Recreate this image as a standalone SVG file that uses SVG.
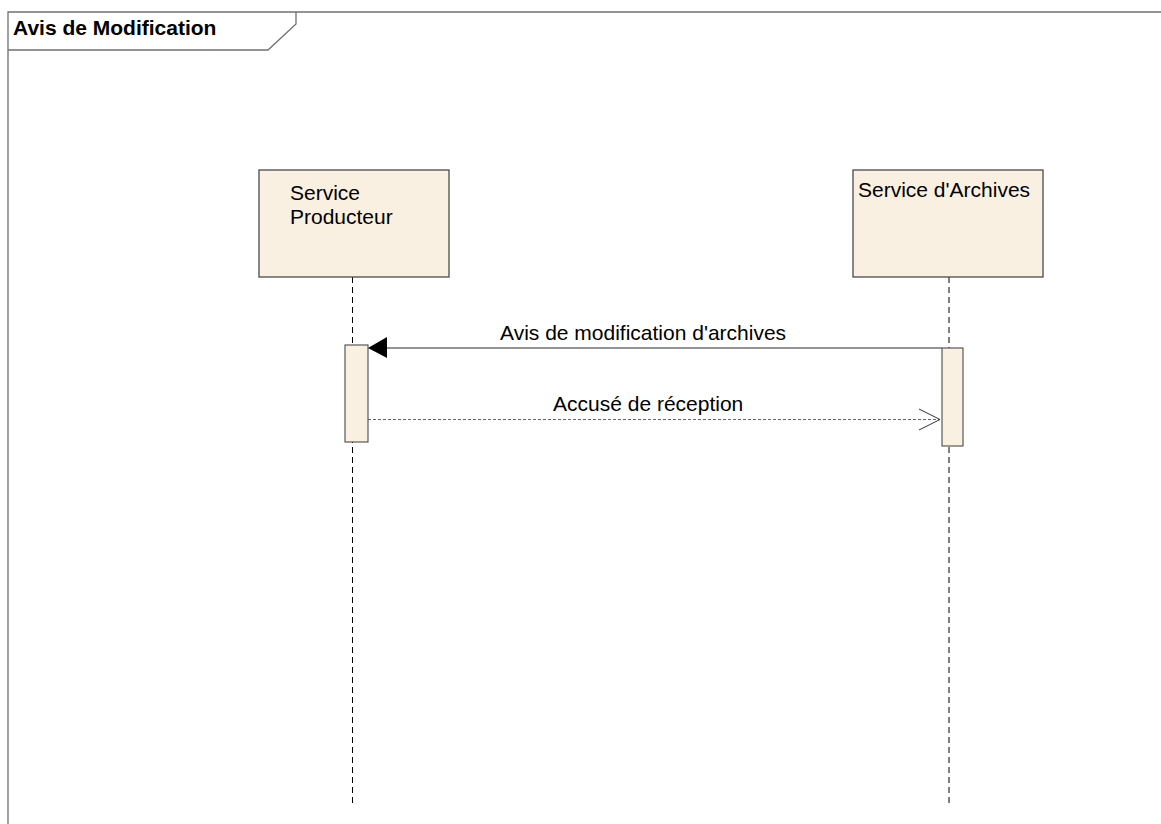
<svg xmlns="http://www.w3.org/2000/svg" width="1161" height="824" viewBox="0 0 1161 824">
  <style>
    .frame { fill: none; stroke: #707070; stroke-width: 1.3; }
    .title { font-family: "Liberation Sans", Arial, sans-serif; font-size: 21px; font-weight: bold; fill: #000; }
    .label { font-family: "Liberation Sans", Arial, sans-serif; font-size: 21px; fill: #000; }
    .head { fill: #FAF0E2; stroke: #4a4a4a; stroke-width: 1.3; }
    .act { fill: #FAF0E2; stroke: #4a4a4a; stroke-width: 1.1; }
    .life { stroke: #000; stroke-width: 1; stroke-dasharray: 6 4; fill: none; }
    .call { stroke: #707070; stroke-width: 1.6; fill: none; }
    .reply { stroke: #555; stroke-width: 0.9; stroke-dasharray: 3 2; fill: none; }
  </style>
  <defs>
    <marker id="filled" markerWidth="20" markerHeight="20" refX="0" refY="10" orient="auto" markerUnits="userSpaceOnUse" viewBox="0 0 20 20">
      <path d="M0,10 L19,0 L19,20 Z" fill="#000"/>
    </marker>
  </defs>
  <rect width="1161" height="824" fill="#fff"/>

  <!-- sequence frame with title tab -->
  <g id="frame">
    <path class="frame" d="M8,824 V12 H1161"/>
    <path class="frame" d="M8,50 H268 L296,24 V12"/>
    <text class="title" x="13" y="35">Avis de Modification</text>
  </g>

  <!-- lifeline: Service Producteur -->
  <g id="service-producteur">
    <line class="life" x1="352.5" y1="277" x2="352.5" y2="804"/>
    <rect class="head" x="259" y="170" width="190" height="107"/>
    <text class="label" x="290" y="200">Service</text>
    <text class="label" x="290" y="224">Producteur</text>
    <rect class="act" x="345" y="345" width="23" height="97"/>
  </g>

  <!-- lifeline: Service d'Archives -->
  <g id="service-archives">
    <line class="life" x1="949" y1="277" x2="949" y2="804"/>
    <rect class="head" x="853" y="170" width="190" height="107"/>
    <text class="label" x="858" y="197">Service d'Archives</text>
    <rect class="act" x="942" y="348" width="21" height="98"/>
  </g>

  <!-- messages -->
  <g id="connectors">
    <line class="call" x1="942" y1="348" x2="387" y2="348"/>
    <path d="M368,348 L387,337 L387,358 Z" fill="#000"/>
    <text class="label" x="500" y="340">Avis de modification d'archives</text>

    <line class="reply" x1="368" y1="419.5" x2="940" y2="419.5"/>
    <path d="M919,409 L940,419.5 L919,430" fill="none" stroke="#333" stroke-width="1"/>
    <text class="label" x="553" y="411">Accusé de réception</text>
  </g>
</svg>
